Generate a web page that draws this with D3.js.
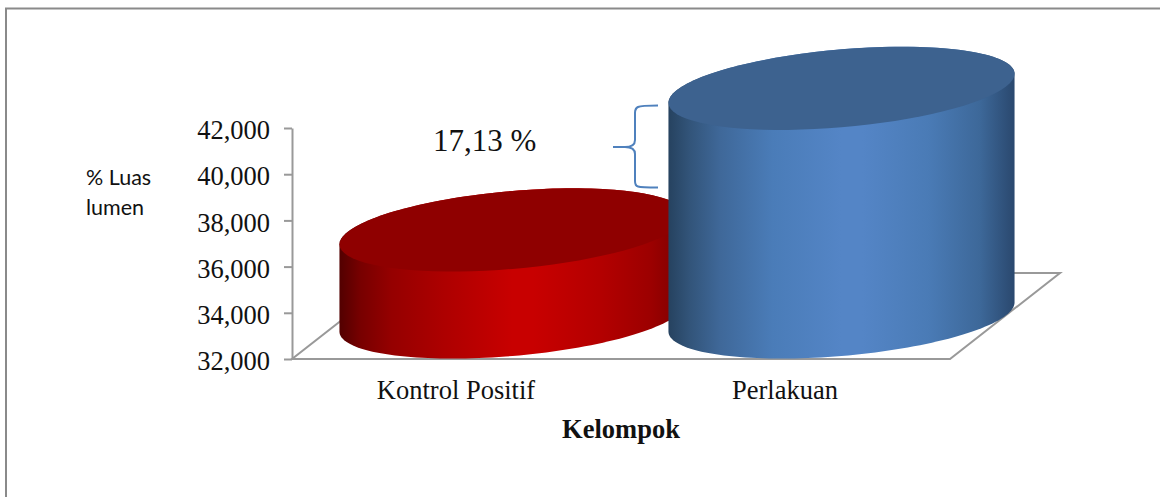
<!DOCTYPE html>
<html>
<head>
<meta charset="utf-8">
<script src="https://d3js.org/d3.v7.min.js"></script>
<style>
  html, body { margin: 0; padding: 0; background: #fff; }
  svg { display: block; }
  .serif { font-family: "Liberation Serif", serif; fill: #111; }
</style>
</head>
<body>
<div id="chart"></div>
<script>
// chart data
var categories = ["Kontrol Positif", "Perlakuan"]
var values = [35.77, 41.9]
var yTicks = [32, 34, 36, 38, 40, 42]
var yLabel = ["% Luas", "lumen"]
var xLabel = "Kelompok"
var note = "17,13 %"

var width = 1160, height = 497

// plot box, front edge of the floor
var margin = {top: 128, left: 292}
var plotW = 658, plotH = 231
// how far the floor goes back
var depth = {x: 110, y: -86}

var svg = d3.select("#chart").append("svg")
    .attr("width", width)
    .attr("height", height)

// scales
var x = d3.scaleBand()
    .domain(categories)
    .range([margin.left, margin.left + plotW])

var y = d3.scaleLinear()
    .domain([32, 42])
    .range([margin.top + plotH, margin.top])

// gradients for the cylinder sides
var colors = [
  {id: "redSide", top: "#8f0000", stops: [[0, "#520000"], [0.06, "#770000"], [0.15, "#950000"], [0.3, "#ad0000"], [0.5, "#c80000"], [0.56, "#c80000"], [0.75, "#b40000"], [0.9, "#9c0000"], [1, "#7a0000"]]},
  {id: "blueSide", top: "#3d628f", stops: [[0, "#26425f"], [0.06, "#325479"], [0.15, "#3f6899"], [0.3, "#4a7cb8"], [0.5, "#5485c6"], [0.56, "#5485c6"], [0.75, "#4a7bb6"], [0.9, "#3d6899"], [1, "#2a486e"]]}
]

var defs = svg.append("defs")
colors.forEach(function(c) {
  defs.append("linearGradient")
      .attr("id", c.id)
      .selectAll("stop")
      .data(c.stops)
      .enter()
      .append("stop")
      .attr("offset", function(d) { return d[0] })
      .attr("stop-color", function(d) { return d[1] })
})

// outer frame, the picture is cut off on the right and at the bottom
svg.append("path")
    .attr("d", "M6,497V8.5H1160")
    .attr("fill", "none")
    .attr("stroke", "#8a8a8a")
    .attr("stroke-width", 2)

// floor
var x0 = x.range()[0], x1 = x.range()[1], y0 = y(32)
svg.append("path")
    .attr("d", "M" + x0 + "," + y0 + "L" + x1 + "," + y0
      + "L" + (x1 + depth.x) + "," + (y0 + depth.y)
      + "L" + (x0 + depth.x) + "," + (y0 + depth.y) + "Z")
    .attr("fill", "none")
    .attr("stroke", "#999")
    .attr("stroke-width", 2)

// y axis
var axis = svg.append("g")
    .attr("transform", "translate(" + x0 + ",0)")
    .call(d3.axisLeft(y)
      .tickValues(yTicks)
      .tickSize(8)
      .tickSizeOuter(0)
      .tickPadding(14)
      .tickFormat(function(d) { return d3.format(",")(d * 1000) }))
axis.selectAll("line, path").attr("stroke", "#999").attr("stroke-width", 2)
axis.selectAll("text")
    .attr("class", "serif")
    .attr("dy", "0.4em")
    .style("font-size", "26.5px")
    .attr("fill", "#111")

// cylinders, the ellipse is skewed a bit like the 3d view
var rx = x.bandwidth() * 0.526, tilt = 14.5, ry = 39
var baseY = y0 + depth.y / 2 + 1

function ellipseAt(cx, cy, from, to) {
  return d3.range(0, 81).map(function(i) {
    var t = from + (to - from) * i / 80
    return [cx + rx * Math.cos(t), cy - tilt * Math.cos(t) + ry * Math.sin(t)]
  })
}
var line = d3.line()

svg.selectAll("g.cyl")
    .data(categories)
    .enter()
    .append("g")
    .attr("class", "cyl")
    .each(function(name, i) {
      var g = d3.select(this)
      var cx = x(name) + x.bandwidth() / 2 + depth.x / 2 + 1
      var topY = baseY - (y0 - y(values[i]))
      // side runs under the whole lid so no seam shows
      g.append("path")
          .attr("d", line(ellipseAt(cx, baseY, Math.PI, 0).concat(ellipseAt(cx, topY, 0, -Math.PI))) + "Z")
          .attr("fill", "url(#" + colors[i].id + ")")
      g.append("path")
          .attr("d", line(ellipseAt(cx, topY, 0, 2 * Math.PI)) + "Z")
          .attr("fill", colors[i].top)
    })

// category labels
svg.selectAll("text.cat")
    .data(categories)
    .enter()
    .append("text")
    .attr("class", "serif cat")
    .attr("x", function(d) { return x(d) + x.bandwidth() / 2 - 0.5 })
    .attr("y", 399)
    .attr("text-anchor", "middle")
    .style("font-size", "26.5px")
    .text(function(d) { return d })

svg.append("text")
    .attr("class", "serif")
    .attr("x", 621)
    .attr("y", 438)
    .attr("text-anchor", "middle")
    .style("font-size", "26.5px")
    .style("font-weight", "bold")
    .text(xLabel)

// y label, two lines
svg.selectAll("text.ylab")
    .data(yLabel)
    .enter()
    .append("text")
    .attr("class", "ylab")
    .attr("x", 86)
    .attr("y", function(d, i) { return 185 + i * 30 })
    .style("font-family", "Lato, sans-serif")
    .style("font-size", "21.5px")
    .style("fill", "#111")
    .text(function(d) { return d })

// difference note with brace
svg.append("text")
    .attr("class", "serif")
    .attr("x", 433)
    .attr("y", 151)
    .style("font-size", "31px")
    .text(note)

svg.append("path")
    .attr("d", "M658,105.5C648,105.5 641,105.5 638,107C636,108 635,110 635,113V140C635,145 632,147 625,147H613M625,147C632,147 635,149 635,154V181C635,184 636,186 638,186.5C641,187.5 648,187.5 658,187.5")
    .attr("fill", "none")
    .attr("stroke", "#4f81bd")
    .attr("stroke-width", 2)
</script>
</body>
</html>
